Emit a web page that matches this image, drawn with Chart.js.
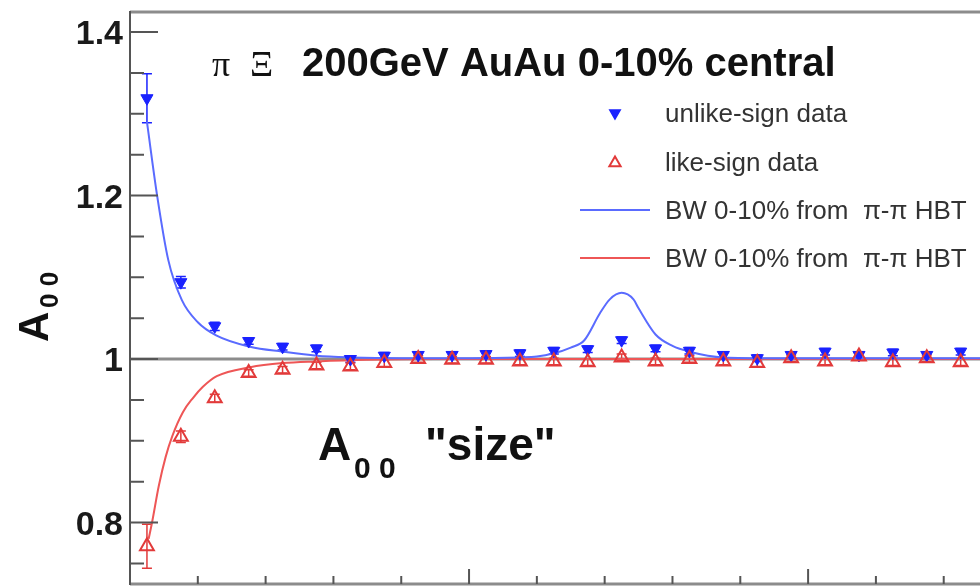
<!DOCTYPE html>
<html>
<head>
<meta charset="utf-8">
<script src="https://cdn.jsdelivr.net/npm/chart.js@4.4.1/dist/chart.umd.min.js"></script>
<style>
  html, body { margin: 0; padding: 0; background: #fff; }
</style>
</head>
<body>
<canvas id="chart" width="980" height="588"></canvas>
<script>
// k* bin centres (GeV/c)
const kStar = [0.005, 0.015, 0.025, 0.035, 0.045, 0.055, 0.065, 0.075, 0.085, 0.095,
  0.105, 0.115, 0.125, 0.135, 0.145, 0.155, 0.165, 0.175, 0.185, 0.195,
  0.205, 0.215, 0.225, 0.235, 0.245];

const unlikeSign = [1.319, 1.094, 1.040, 1.022, 1.015, 1.013, 1.000, 1.004, 1.005, 1.005,
  1.006, 1.007, 1.010, 1.012, 1.023, 1.013, 1.010, 1.005, 1.001, 1.005,
  1.009, 1.005, 1.008, 1.005, 1.009];
const unlikeErr = [0.030, 0.007, 0.005, 0.004, 0.004, 0.004, 0.004, 0.004, 0.004, 0.004,
  0.004, 0.004, 0.004, 0.004, 0.004, 0.004, 0.004, 0.004, 0.004, 0.004,
  0.004, 0.004, 0.004, 0.004, 0.004];

const likeSign = [0.771, 0.905, 0.952, 0.983, 0.987, 0.992, 0.991, 0.995, 1.000, 0.999,
  0.999, 0.997, 0.997, 0.996, 1.002, 0.997, 1.000, 0.997, 0.995, 1.001,
  0.997, 1.003, 0.996, 1.001, 0.996];
const likeErr = [0.027, 0.007, 0.005, 0.004, 0.004, 0.004, 0.004, 0.004, 0.004, 0.004,
  0.004, 0.004, 0.004, 0.004, 0.004, 0.004, 0.004, 0.004, 0.004, 0.004,
  0.004, 0.004, 0.004, 0.004, 0.004];

// blast-wave curves
const bwUnlikeX = [0.005, 0.008, 0.0113, 0.0153, 0.02, 0.0254, 0.0354, 0.045, 0.055, 0.065,
  0.08, 0.10, 0.115, 0.12, 0.125, 0.130, 0.134, 0.1386, 0.1415, 0.145,
  0.1485, 0.150, 0.155, 0.160, 0.165, 0.175, 0.19, 0.22, 0.2507];
const bwUnlikeY = [1.29, 1.20, 1.121, 1.072, 1.045, 1.029, 1.015, 1.009, 1.004, 1.002,
  1.001, 1.001, 1.002, 1.003, 1.007, 1.014, 1.023, 1.056, 1.073, 1.081,
  1.073, 1.062, 1.030, 1.016, 1.009, 1.002, 1.001, 1.001, 1.001];

const bwLikeX = [0.0055, 0.0065, 0.0085, 0.0105, 0.0125, 0.0156, 0.0185, 0.0215, 0.0256, 0.0354,
  0.045, 0.055, 0.07, 0.09, 0.12, 0.2507];
const bwLikeY = [0.78, 0.80, 0.845, 0.880, 0.906, 0.935, 0.952, 0.966, 0.979, 0.990,
  0.995, 0.997, 0.999, 1.0, 1.0, 1.0];

const yMajor = [0.8, 1.0, 1.2, 1.4];
const yLabels = ['0.8', '1', '1.2', '1.4'];
const yMinor = [0.75, 0.85, 0.9, 0.95, 1.05, 1.1, 1.15, 1.25, 1.3, 1.35];
const xMajor = [0, 0.1, 0.2];
const xMinor = [0.02, 0.04, 0.06, 0.08, 0.12, 0.14, 0.16, 0.18, 0.22, 0.24];
const refLine = 1.0;

const legendItems = ['unlike-sign data', 'like-sign data', 'BW 0-10% from  π-π HBT', 'BW 0-10% from  π-π HBT'];

const BLUE_PT = '#1a22ff';
const BLUE_LN = '#5a6bff';
const RED_PT = '#e23a3a';
const RED_LN = '#ee5656';
const AXIS = '#555';

const pts = (xs, ys) => xs.map((x, i) => ({ x: x, y: ys[i] }));

const rootFrame = {
  id: 'rootFrame',
  beforeDatasetsDraw(chart) {
    const { ctx, chartArea: a, scales: { x, y } } = chart;
    ctx.save();
    const y1 = y.getPixelForValue(refLine);
    ctx.strokeStyle = '#8c8c8c';
    ctx.lineWidth = 3;
    ctx.beginPath(); ctx.moveTo(a.left, y1); ctx.lineTo(a.right, y1); ctx.stroke();

    // error bars
    const bars = [[unlikeSign, unlikeErr, BLUE_PT], [likeSign, likeErr, RED_PT]];
    bars.forEach(([vals, errs, col]) => {
      ctx.strokeStyle = col;
      ctx.lineWidth = 1.5;
      vals.forEach((v, i) => {
        const px = x.getPixelForValue(kStar[i]);
        const top = y.getPixelForValue(v + errs[i]);
        const bot = y.getPixelForValue(v - errs[i]);
        ctx.beginPath();
        ctx.moveTo(px, top); ctx.lineTo(px, bot);
        ctx.moveTo(px - 5, top); ctx.lineTo(px + 5, top);
        ctx.moveTo(px - 5, bot); ctx.lineTo(px + 5, bot);
        ctx.stroke();
      });
    });
    ctx.restore();
  },
  afterDraw(chart) {
    const { ctx, chartArea: a, scales: { x, y } } = chart;
    ctx.save();
    // frame
    ctx.strokeStyle = '#8c8c8c';
    ctx.lineWidth = 3;
    ctx.beginPath(); ctx.moveTo(a.left, a.top); ctx.lineTo(a.right, a.top); ctx.stroke();
    ctx.beginPath(); ctx.moveTo(a.left, a.bottom); ctx.lineTo(a.right, a.bottom); ctx.stroke();
    ctx.strokeStyle = AXIS;
    ctx.lineWidth = 2;
    ctx.beginPath(); ctx.moveTo(a.left, a.top - 1); ctx.lineTo(a.left, a.bottom + 1); ctx.stroke();

    // ticks (inside, ROOT style)
    ctx.beginPath();
    yMajor.forEach(v => { const p = y.getPixelForValue(v); ctx.moveTo(a.left, p); ctx.lineTo(a.left + 28, p); });
    yMinor.forEach(v => { const p = y.getPixelForValue(v); ctx.moveTo(a.left, p); ctx.lineTo(a.left + 14, p); });
    xMajor.forEach(v => { const p = x.getPixelForValue(v); ctx.moveTo(p, a.bottom); ctx.lineTo(p, a.bottom - 15); });
    xMinor.forEach(v => { const p = x.getPixelForValue(v); ctx.moveTo(p, a.bottom); ctx.lineTo(p, a.bottom - 8); });
    ctx.stroke();

    // y tick labels
    ctx.fillStyle = '#1a1a1a';
    ctx.font = 'bold 34px "Liberation Sans"';
    ctx.textAlign = 'right';
    ctx.textBaseline = 'middle';
    yMajor.forEach((v, i) => ctx.fillText(yLabels[i], a.left - 7, y.getPixelForValue(v) + 3));
    ctx.textAlign = 'left';
    ctx.textBaseline = 'alphabetic';

    // title
    ctx.fillStyle = '#111';
    ctx.font = '36px "Liberation Serif"';
    ctx.fillText('π', 212, 76);
    ctx.fillText('Ξ', 250, 76);
    ctx.font = 'bold 40px "Liberation Sans"';
    ctx.fillText('200GeV AuAu 0-10% central', 302, 76);

    // A00 "size"
    ctx.font = 'bold 46px "Liberation Sans"';
    ctx.fillText('A', 318, 460);
    ctx.font = 'bold 30px "Liberation Sans"';
    ctx.fillText('0 0', 354, 478);
    ctx.font = 'bold 46px "Liberation Sans"';
    ctx.fillText('"size"', 425, 460);

    // y axis title
    ctx.save();
    ctx.translate(48, 342);
    ctx.rotate(-Math.PI / 2);
    ctx.font = 'bold 42px "Liberation Sans"';
    ctx.fillText('A', 0, 0);
    ctx.font = 'bold 26px "Liberation Sans"';
    ctx.fillText('0 0', 34, 10);
    ctx.restore();

    // legend
    const rows = [113, 162, 210, 258];
    const H = Chart.helpers;
    ctx.lineWidth = 1.5;
    ctx.fillStyle = BLUE_PT; ctx.strokeStyle = BLUE_PT;
    H.drawPoint(ctx, { pointStyle: 'triangle', rotation: 180, radius: 6, borderWidth: 1 }, 615, rows[0]);
    ctx.fillStyle = 'rgba(0,0,0,0)'; ctx.strokeStyle = RED_PT;
    ctx.lineWidth = 2;
    H.drawPoint(ctx, { pointStyle: 'triangle', rotation: 0, radius: 6.5, borderWidth: 2 }, 615, rows[1] + 1);
    ctx.strokeStyle = BLUE_LN;
    ctx.beginPath(); ctx.moveTo(580, rows[2]); ctx.lineTo(650, rows[2]); ctx.stroke();
    ctx.strokeStyle = RED_LN;
    ctx.beginPath(); ctx.moveTo(580, rows[3]); ctx.lineTo(650, rows[3]); ctx.stroke();
    ctx.fillStyle = '#333';
    ctx.font = '26px "Liberation Sans"';
    legendItems.forEach((t, i) => ctx.fillText(t, 665, rows[i] + 9));
    ctx.restore();
  }
};

new Chart(document.getElementById('chart'), {
  type: 'scatter',
  data: {
    datasets: [
      {
        label: 'like-sign data',
        data: pts(kStar, likeSign),
        pointStyle: 'triangle',
        pointRadius: 8,
        pointBorderWidth: 2,
        borderColor: RED_PT,
        backgroundColor: 'rgba(0,0,0,0)',
        order: 0
      },
      {
        label: 'unlike-sign data',
        data: pts(kStar, unlikeSign),
        pointStyle: 'triangle',
        rotation: 180,
        pointRadius: 7,
        pointBorderWidth: 1,
        borderColor: BLUE_PT,
        backgroundColor: BLUE_PT,
        order: 1
      },
      {
        label: 'BW unlike',
        data: pts(bwUnlikeX, bwUnlikeY),
        showLine: true,
        pointRadius: 0,
        borderColor: BLUE_LN,
        borderWidth: 2,
        cubicInterpolationMode: 'monotone',
        order: 2
      },
      {
        label: 'BW like',
        data: pts(bwLikeX, bwLikeY),
        showLine: true,
        pointRadius: 0,
        borderColor: RED_LN,
        borderWidth: 2,
        cubicInterpolationMode: 'monotone',
        order: 3
      }
    ]
  },
  options: {
    responsive: false,
    animation: false,
    layout: { autoPadding: false, padding: { top: 12, right: 0, left: 0, bottom: 0 } },
    plugins: { legend: { display: false }, tooltip: { enabled: false } },
    scales: {
      x: {
        type: 'linear',
        min: 0,
        max: 0.2507,
        grid: { display: false, drawTicks: false },
        border: { display: false },
        ticks: { display: false },
        afterFit(scale) { scale.height = 4; }
      },
      y: {
        type: 'linear',
        min: 0.7248,
        max: 1.4245,
        grid: { display: false, drawTicks: false },
        border: { display: false },
        ticks: { display: false },
        afterFit(scale) { scale.width = 130; }
      }
    }
  },
  plugins: [rootFrame]
});
</script>
</body>
</html>
